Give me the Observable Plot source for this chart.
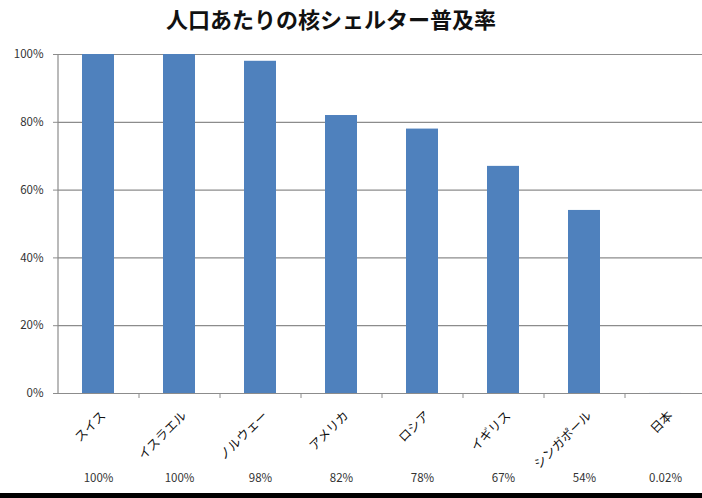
<!DOCTYPE html>
<html>
<head>
<meta charset="utf-8">
<script src="https://cdn.jsdelivr.net/npm/d3@7"></script>
<script src="https://cdn.jsdelivr.net/npm/@observablehq/plot@0.6"></script>
<style>
  html, body { margin: 0; padding: 0; background: #fff; overflow: hidden; }
  #title { width: 662px; height: 36px; line-height: 36px; text-align: center;
           font-family: "Noto Sans CJK JP", sans-serif; font-weight: bold; font-size: 22px; color: #111; }
  #bottom { width: 702px; height: 5px; background: #000; }
  svg { display: block; }
</style>
</head>
<body>
<div id="title">人口あたりの核シェルター普及率</div>
<div id="chart"></div>
<div id="bottom"></div>
<script>
const countries = ["スイス", "イスラエル", "ノルウェー", "アメリカ", "ロシア", "イギリス", "シンガポール", "日本"];
const rates = [100, 100, 98, 82, 78, 67, 54, 0.02];
const rateLabels = ["100%", "100%", "98%", "82%", "78%", "67%", "54%", "0.02%"];
const yTicks = [0, 20, 40, 60, 80, 100];

const data = countries.map((c, i) => ({country: c, rate: rates[i], label: rateLabels[i]}));

const axisColor = "#8c8c8c";
const font = "'Noto Sans CJK JP', 'Noto Sans', sans-serif";
const step = 81;

const chart = Plot.plot({
  width: 702,
  height: 457,
  marginLeft: 58,
  marginRight: 0,
  marginTop: 18,
  marginBottom: 100,
  style: {fontFamily: font, background: "#fff", overflow: "visible"},
  x: {domain: countries, range: [58, 58 + step * countries.length], paddingInner: 0.6, paddingOuter: 0.3, axis: null, label: null},
  y: {domain: [0, 100], axis: null, label: null},
  marks: [
    Plot.gridY(yTicks.filter(d => d > 0), {stroke: axisColor, strokeOpacity: 1, strokeWidth: 1.2}),
    Plot.barY(data, {x: "country", y: "rate", fill: "#4f81bd"}),
    Plot.ruleY([0], {stroke: axisColor, strokeWidth: 1.2}),
    Plot.ruleX([countries[0]], {dx: -step / 2, y1: 0, y2: 100, stroke: axisColor, strokeWidth: 1.2}),
    Plot.axisY({ticks: yTicks, tickSize: 5, tickPadding: 10, stroke: axisColor, label: null,
                tickFormat: d => d + "%", fontSize: 11.5, fill: "#333"}),
    Plot.axisX({tickSize: 5, text: null, dx: step / 2, stroke: axisColor, label: null}),
    Plot.text(data, {x: "country", y: 0, text: "country", rotate: -45, textAnchor: "end",
                     dx: 5, dy: 20, fontSize: 12.5, fill: "#111"}),
    Plot.text(data, {x: "country", y: 0, text: "label", dy: 85, fontSize: 11.5, fill: "#333"})
  ]
});
document.getElementById("chart").appendChild(chart);
</script>
</body>
</html>
